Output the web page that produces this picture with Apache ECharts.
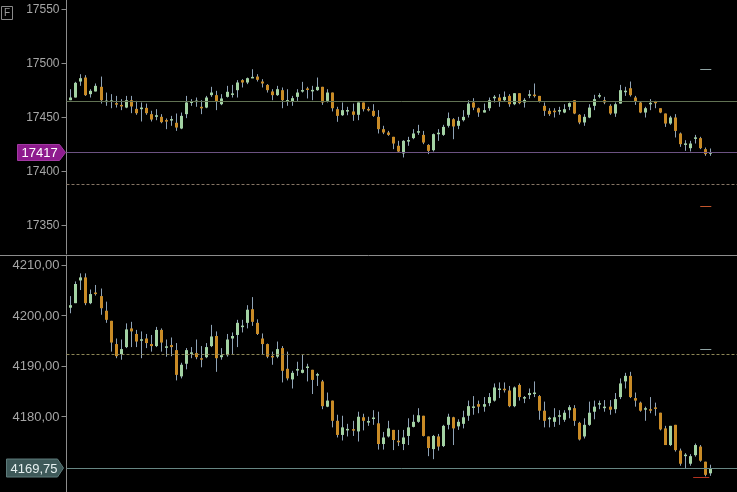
<!DOCTYPE html>
<html><head><meta charset="utf-8">
<script src="https://cdn.jsdelivr.net/npm/echarts@6/dist/echarts.min.js"></script>
<style>html,body{margin:0;padding:0;background:#000;overflow:hidden}#c{width:737px;height:492px}</style>
</head><body><div id="c"></div>
<script>
// [open, close, low, high]
const topOHLC = [
[17465.4,17467.9,17465.4,17475.6],[17467.9,17481.5,17467.9,17482.4],[17482.7,17485.8,17478.7,17489.5],[17486.4,17470.1,17469.4,17488.6],
[17471.0,17474.1,17467.9,17475.6],[17473.5,17478.7,17473.5,17480.9],[17477.8,17465.4,17462.3,17487.3],[17463.9,17464.8,17460.2,17472.5],
[17464.2,17464.8,17458.0,17471.0],[17462.3,17461.7,17458.6,17469.4],[17460.8,17459.9,17456.2,17466.4],[17458.6,17465.4,17458.0,17469.4],
[17465.4,17459.6,17453.4,17469.4],[17457.4,17453.4,17451.9,17464.8],[17457.1,17458.6,17445.7,17463.3],[17458.3,17453.4,17451.9,17462.3],
[17452.5,17447.5,17445.7,17455.6],[17450.0,17451.5,17446.9,17457.1],[17450.0,17445.1,17444.1,17452.5],[17446.6,17446.0,17438.6,17448.5],
[17447.0,17447.5,17441.7,17450.9],[17444.5,17440.1,17437.0,17453.1],[17439.2,17450.9,17438.6,17454.0],[17452.5,17463.3,17448.8,17469.4],
[17463.3,17463.9,17460.2,17466.4],[17464.2,17464.5,17459.3,17467.9],[17458.9,17458.3,17452.5,17465.4],[17458.6,17467.9,17458.0,17469.4],
[17470.1,17472.5,17468.5,17477.8],[17470.1,17463.9,17456.2,17474.1],[17461.7,17467.0,17460.8,17471.0],[17468.5,17473.2,17467.9,17478.7],
[17470.7,17471.3,17467.9,17479.6],[17474.7,17481.8,17467.9,17484.0],[17484.0,17481.8,17477.2,17484.9],[17481.8,17485.8,17480.3,17486.4],
[17486.0,17486.6,17485.8,17494.1],[17487.3,17484.3,17482.7,17489.5],[17482.7,17480.9,17477.2,17484.9],[17479.6,17474.7,17472.5,17480.3],
[17473.5,17470.1,17465.4,17475.6],[17470.1,17475.6,17469.4,17478.7],[17474.7,17465.4,17458.0,17477.2],[17464.2,17465.4,17460.2,17475.6],
[17464.2,17467.3,17460.2,17469.4],[17468.5,17472.5,17464.8,17475.6],[17473.5,17474.7,17472.5,17482.4],[17476.2,17475.0,17467.0,17477.8],
[17474.1,17474.4,17465.4,17478.7],[17474.7,17477.8,17474.1,17486.4],[17477.8,17463.3,17461.1,17477.8],[17464.8,17472.5,17463.3,17475.6],
[17472.5,17458.0,17455.0,17472.5],[17457.1,17450.9,17445.4,17459.3],[17451.5,17456.2,17450.9,17463.3],[17455.3,17455.9,17451.5,17459.3],
[17455.0,17451.9,17446.3,17462.3],[17451.9,17463.3,17446.9,17463.3],[17463.3,17457.1,17455.0,17463.3],[17456.8,17456.5,17455.0,17459.3],
[17455.6,17450.9,17450.0,17461.7],[17450.0,17438.6,17434.6,17456.2],[17438.6,17435.5,17434.0,17441.7],[17435.5,17433.3,17432.4,17437.0],
[17431.5,17425.3,17420.1,17431.5],[17423.2,17417.9,17417.0,17427.8],[17416.1,17427.8,17412.4,17428.4],[17427.5,17428.1,17423.2,17431.5],
[17430.3,17434.6,17429.3,17438.6],[17435.9,17436.2,17433.3,17442.6],[17433.3,17426.2,17424.7,17437.0],[17424.0,17418.5,17415.5,17424.7],
[17419.1,17434.0,17417.9,17434.6],[17434.3,17434.9,17427.8,17438.6],[17433.3,17440.7,17432.4,17442.6],[17441.7,17448.8,17440.1,17454.0],
[17447.8,17441.1,17429.3,17448.8],[17441.7,17446.3,17438.6,17450.0],[17446.9,17450.0,17445.7,17456.2],[17451.9,17462.3,17449.4,17465.4],
[17463.3,17458.6,17456.2,17467.3],[17458.0,17454.0,17450.0,17458.6],[17454.0,17456.2,17454.0,17462.3],[17458.0,17465.4,17455.6,17467.9],
[17467.6,17468.2,17463.3,17470.1],[17467.9,17464.8,17459.3,17471.0],[17465.4,17468.5,17464.2,17473.5],[17469.4,17461.7,17459.3,17471.0],
[17461.7,17471.9,17460.8,17471.9],[17471.9,17462.7,17461.7,17471.9],[17463.3,17465.7,17458.6,17467.3],[17469.9,17470.5,17467.3,17474.7],
[17470.4,17469.4,17467.9,17480.9],[17469.4,17464.2,17463.3,17469.4],[17460.2,17455.6,17450.9,17463.3],[17455.6,17452.5,17450.9,17458.0],
[17455.3,17454.7,17449.4,17458.0],[17455.3,17455.9,17451.9,17459.3],[17454.0,17457.1,17453.4,17461.7],[17459.3,17462.7,17456.2,17463.3],
[17465.4,17453.1,17452.5,17465.4],[17451.9,17444.8,17443.2,17452.5],[17444.8,17450.0,17441.7,17452.5],[17449.4,17458.6,17448.8,17461.7],
[17460.2,17466.4,17456.2,17470.4],[17469.1,17469.7,17467.3,17471.9],[17465.4,17463.3,17461.7,17468.5],[17460.2,17453.1,17451.9,17461.7],
[17453.1,17461.7,17450.0,17463.3],[17462.3,17474.7,17462.3,17479.6],[17473.2,17473.8,17469.4,17477.8],[17476.5,17470.1,17468.8,17482.7],
[17467.9,17464.2,17461.1,17469.4],[17463.3,17454.0,17453.4,17464.2],[17454.0,17458.0,17449.4,17459.3],[17462.0,17462.6,17456.2,17466.4],
[17463.6,17463.0,17458.0,17464.8],[17458.0,17454.0,17453.4,17458.0],[17453.1,17443.8,17440.7,17453.1],[17443.8,17449.4,17442.6,17450.9],
[17449.4,17437.0,17430.9,17452.5],[17434.6,17424.7,17422.2,17435.5],[17424.4,17425.0,17418.5,17428.4],[17421.0,17425.3,17417.9,17427.8],
[17430.0,17430.6,17425.3,17433.3],[17430.3,17421.0,17420.1,17431.5],[17420.1,17415.5,17413.9,17421.6],[17416.1,17417.0,17413.9,17420.7]
];
const botOHLC = [
[4201.5,4202.0,4200.4,4203.8],[4202.4,4206.2,4202.4,4206.7],[4206.9,4207.5,4205.0,4208.3],[4207.5,4202.4,4202.0,4208.3],
[4202.4,4204.2,4202.2,4205.1],[4204.5,4204.2,4203.9,4206.0],[4203.8,4201.4,4200.1,4205.3],[4200.9,4199.1,4198.5,4202.7],
[4198.9,4194.6,4192.8,4198.9],[4194.3,4191.9,4191.5,4195.4],[4192.3,4193.3,4191.2,4195.2],[4193.7,4197.2,4193.5,4198.4],
[4197.4,4196.8,4193.7,4198.7],[4196.3,4194.8,4193.7,4197.1],[4195.0,4195.2,4191.5,4196.8],[4195.4,4194.5,4193.5,4196.3],
[4194.3,4193.9,4192.8,4196.1],[4193.9,4197.1,4193.7,4197.7],[4197.1,4194.6,4192.8,4197.4],[4193.6,4193.8,4191.8,4195.2],
[4194.1,4193.7,4191.9,4195.6],[4193.1,4188.2,4187.1,4194.5],[4187.9,4190.2,4187.5,4190.6],[4190.4,4193.1,4189.3,4193.5],
[4192.4,4192.6,4191.5,4193.7],[4192.5,4191.7,4191.3,4195.2],[4191.4,4191.3,4189.7,4193.9],[4191.7,4193.7,4191.5,4194.5],
[4193.9,4195.8,4193.7,4198.1],[4195.9,4191.5,4188.8,4196.8],[4191.7,4192.1,4191.2,4193.5],[4192.1,4195.2,4191.8,4196.3],
[4195.4,4195.9,4192.3,4196.6],[4196.1,4198.5,4193.7,4199.1],[4197.7,4197.9,4196.6,4199.1],[4198.5,4201.1,4197.4,4202.0],
[4201.2,4198.7,4197.9,4203.6],[4198.5,4196.3,4196.1,4199.2],[4195.4,4194.3,4192.3,4196.4],[4194.3,4191.8,4191.5,4194.4],
[4191.9,4191.7,4190.2,4192.8],[4191.8,4193.3,4191.5,4194.8],[4193.5,4189.0,4186.7,4193.9],[4189.4,4187.5,4187.1,4192.8],
[4187.3,4188.6,4185.5,4189.0],[4189.2,4189.2,4188.0,4190.8],[4188.6,4189.2,4188.5,4192.3],[4189.6,4189.8,4186.9,4190.4],
[4189.2,4187.2,4184.4,4189.2],[4188.1,4188.3,4186.0,4188.6],[4186.9,4182.0,4181.4,4187.2],[4181.9,4183.1,4181.8,4184.7],
[4183.1,4179.1,4177.8,4183.1],[4179.1,4176.3,4175.8,4180.3],[4176.3,4177.8,4175.2,4180.1],[4177.3,4177.4,4176.0,4178.5],
[4177.4,4177.2,4176.1,4179.1],[4177.0,4179.9,4175.0,4180.9],[4179.8,4179.1,4177.2,4180.5],[4178.8,4179.0,4178.1,4179.9],
[4179.5,4179.7,4178.3,4181.2],[4178.6,4174.5,4173.4,4180.9],[4174.5,4175.8,4173.4,4176.9],[4176.0,4177.6,4175.8,4179.1],
[4177.3,4175.3,4173.3,4177.3],[4175.1,4174.9,4174.1,4177.3],[4174.5,4175.8,4173.3,4177.3],[4176.1,4177.8,4174.3,4179.6],
[4177.9,4178.9,4177.8,4180.3],[4178.9,4180.2,4178.7,4181.6],[4180.1,4176.1,4176.0,4180.1],[4176.0,4173.7,4172.1,4176.0],
[4173.5,4176.1,4171.5,4176.3],[4176.0,4174.0,4173.2,4176.5],[4174.1,4178.1,4173.9,4178.3],[4178.3,4179.9,4177.4,4180.5],
[4179.8,4177.6,4174.3,4179.9],[4178.0,4178.9,4177.3,4179.4],[4178.5,4179.8,4177.6,4181.1],[4180.1,4182.0,4179.1,4183.1],
[4181.7,4181.9,4180.3,4184.0],[4182.4,4181.9,4180.6,4183.1],[4181.9,4182.4,4180.9,4183.8],[4182.6,4183.8,4182.0,4184.6],
[4183.1,4185.7,4182.9,4186.5],[4185.3,4185.4,4183.6,4186.7],[4185.4,4185.2,4184.7,4186.7],[4185.1,4182.0,4181.8,4186.0],
[4182.0,4185.7,4181.8,4185.9],[4186.2,4183.8,4183.1,4186.5],[4183.6,4183.7,4182.6,4184.0],[4184.2,4184.6,4183.4,4185.5],
[4184.5,4184.6,4183.8,4186.9],[4184.0,4181.1,4179.3,4184.2],[4181.1,4179.1,4177.8,4182.9],[4179.5,4179.6,4177.8,4179.9],
[4178.9,4179.8,4177.9,4181.6],[4180.0,4180.1,4178.3,4181.2],[4179.3,4180.7,4178.9,4181.2],[4181.2,4181.8,4179.6,4182.2],
[4181.6,4179.1,4178.1,4182.2],[4178.7,4175.4,4175.2,4178.9],[4176.0,4178.3,4175.6,4179.6],[4178.3,4180.7,4178.1,4182.9],
[4180.9,4181.9,4179.4,4183.1],[4182.4,4182.5,4181.4,4183.1],[4181.7,4181.8,4180.9,4183.2],[4181.9,4181.3,4180.3,4183.2],
[4181.4,4183.4,4180.6,4184.6],[4183.8,4186.5,4183.4,4187.5],[4186.9,4188.0,4185.5,4188.6],[4188.0,4183.8,4183.6,4188.8],
[4183.6,4183.1,4181.9,4184.7],[4182.7,4181.1,4180.9,4182.9],[4181.3,4181.6,4179.1,4181.9],[4181.4,4181.1,4180.6,4183.8],
[4181.7,4181.5,4180.1,4182.7],[4180.7,4177.4,4177.2,4180.7],[4177.6,4174.3,4174.3,4178.1],[4174.3,4178.1,4174.1,4178.1],
[4178.3,4173.3,4173.0,4178.3],[4173.2,4170.6,4170.2,4173.6],[4172.2,4172.3,4169.7,4172.7],[4170.6,4172.1,4170.2,4172.5],
[4172.3,4174.3,4172.0,4174.6],[4174.0,4171.2,4171.0,4174.3],[4171.0,4168.4,4168.1,4171.0],[4168.7,4169.75,4168.2,4170.4]
];
const topTicks = [17350, 17400, 17450, 17500, 17550];
const botTicks = [4180, 4190, 4200, 4210];
const topLast = 17417;
const botLast = 4169.75;
const topSolidLevels = [17464];
const topDashedLevels = [17388];
const botDashedLevels = [4192.3];
// short marks: [fromIndex, toIndex, value]
const topShortMarks = [[125, 127.2, 17494.4], [125, 127.2, 17367.6]];
const botShortMarks = [[125, 127.2, 4193.35], [123.6, 126.8, 4167.9]];

const UP = '#a3d2a3', DOWN = '#c98b26', WICK = '#8fa3b6';
function renderCandle(params, api) {
  const x = api.value(0), o = api.value(1), c = api.value(2), l = api.value(3), h = api.value(4);
  const po = api.coord([x, o]), pc = api.coord([x, c]), pl = api.coord([x, l]), ph = api.coord([x, h]);
  const cx = Math.round(po[0]) + 0.5;
  let t = Math.min(po[1], pc[1]), b = Math.max(po[1], pc[1]);
  if (b - t < 1.5) { const m = (t + b) / 2; t = m - 0.75; b = m + 0.75; }
  const up = c >= o;
  return { type: 'group', children: [
    { type: 'line', shape: { x1: cx, y1: ph[1], x2: cx, y2: pl[1] }, style: { stroke: WICK, lineWidth: 1 } },
    { type: 'rect', shape: { x: cx - 1.5, y: t, width: 3, height: b - t }, style: { fill: up ? UP : DOWN } }
  ]};
}
const xMin = -0.754, xMax = 132.3;
function yAx(gi, min, max, ticks, fmt, fs) {
  return { type: 'value', gridIndex: gi, min: min, max: max, position: 'left',
    axisLine: { show: true, onZero: false, lineStyle: { color: '#8c8c8c', width: 1 } },
    axisTick: { show: true, length: 5, customValues: ticks, lineStyle: { color: '#8c8c8c' } },
    axisLabel: { customValues: ticks, formatter: fmt, color: '#a6a6a6', fontSize: fs, fontFamily: 'Liberation Sans, Arial', margin: 7,
      verticalAlign: 'top', lineHeight: 2 },
    splitLine: { show: false } };
}
function xAx(gi) {
  return { type: 'value', gridIndex: gi, min: xMin, max: xMax, show: false, axisLine: { onZero: false }, splitLine: { show: false } };
}
function shortLines(marks, colors) {
  return marks.map((m, i) => [
    { coord: [m[0], m[2]], lineStyle: { color: colors[i], width: 1, type: 'solid' } },
    { coord: [m[1], m[2]], lineStyle: { color: colors[i], width: 1, type: 'solid' } }
  ]);
}
const chart = echarts.init(document.getElementById('c'), null, { renderer: 'canvas' });
chart.setOption({
  backgroundColor: '#000',
  animation: false,
  grid: [
    { left: 66.5, right: 0, top: 0, height: 254, outerBoundsMode: 'none' },
    { left: 66.5, right: 0, top: 256, height: 236, outerBoundsMode: 'none' }
  ],
  xAxis: [xAx(0), xAx(1)],
  yAxis: [
    yAx(0, 17323.0, 17558.2, topTicks, v => String(v), 12),
    yAx(1, 4165.0, 4211.74, botTicks, v => v.toFixed(2).replace('.', ','), 13)
  ],
  series: [
    { type: 'line', xAxisIndex: 0, yAxisIndex: 0, data: [], silent: true,
      markLine: { silent: true, symbol: 'none', label: { show: false },
        data: [
          ...topSolidLevels.map(v => ({ yAxis: v, lineStyle: { color: '#617253', width: 1, type: 'solid' } })),
          { yAxis: topLast, lineStyle: { color: '#6c5282', width: 1, type: 'solid' } },
          ...topDashedLevels.map(v => ({ yAxis: v, lineStyle: { color: '#857565', width: 1, type: [3, 2] } })),
          ...shortLines(topShortMarks, ['#8fa3a3', '#c2552c'])
        ] } },
    { type: 'line', xAxisIndex: 1, yAxisIndex: 1, data: [], silent: true,
      markLine: { silent: true, symbol: 'none', label: { show: false },
        data: [
          ...botDashedLevels.map(v => ({ yAxis: v, lineStyle: { color: '#8d8656', width: 1, type: [3, 2] } })),
          { yAxis: botLast, lineStyle: { color: '#678683', width: 1, type: 'solid' } },
          ...shortLines(botShortMarks, ['#8fa3a3', '#b3321f'])
        ] } },
    { type: 'custom', xAxisIndex: 0, yAxisIndex: 0, renderItem: renderCandle, clip: true,
      encode: { x: 0, y: [1, 2, 3, 4] }, data: topOHLC.map((d, i) => [i].concat(d)) },
    { type: 'custom', xAxisIndex: 1, yAxisIndex: 1, renderItem: renderCandle, clip: true,
      encode: { x: 0, y: [1, 2, 3, 4] }, data: botOHLC.map((d, i) => [i].concat(d)) }
  ]
});
const ty = chart.convertToPixel({ gridIndex: 0 }, [0, topLast])[1];
const by = chart.convertToPixel({ gridIndex: 1 }, [0, botLast])[1];
function tag(x0, x1, y, hh, fill, stroke, text, tcol) {
  return [
    { type: 'polygon', shape: { points: [[x0, y - hh], [x1 - 6, y - hh], [x1, y], [x1 - 6, y + hh], [x0, y + hh]] },
      style: { fill: fill, stroke: stroke, lineWidth: 1 }, z: 100 },
    { type: 'text', x: x0 + 4, y: y + 1, style: { text: text, fill: tcol, font: '13px "Liberation Sans", Arial', verticalAlign: 'middle', align: 'left' }, z: 101 }
  ];
}
chart.setOption({ graphic: [
  { type: 'line', shape: { x1: 0, y1: 255.5, x2: 737, y2: 255.5 }, style: { stroke: '#8c8c8c', lineWidth: 1 }, z: 50 },
  { type: 'rect', shape: { x: 1.5, y: 6.5, width: 11, height: 13 }, style: { fill: 'none', stroke: '#8a8a8a', lineWidth: 1 }, z: 50 },
  { type: 'text', x: 4, y: 13.5, style: { text: 'F', fill: '#9a9a9a', font: '10px "Liberation Sans", Arial', verticalAlign: 'middle' }, z: 51 },
  ...tag(17.5, 65.5, ty, 8, '#8e1b8e', '#a23aa2', String(topLast), '#ffffff'),
  ...tag(6.5, 63.5, by, 9, '#3e5959', '#5d7a7a', botLast.toFixed(2).replace('.', ','), '#e6f0f0')
]});
</script>
</body></html>
